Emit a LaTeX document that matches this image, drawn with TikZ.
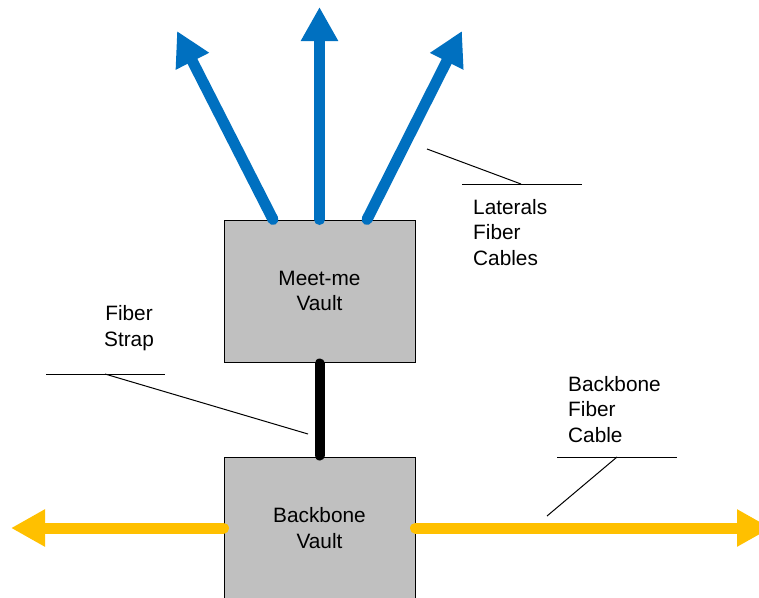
\documentclass[tikz,border=0pt]{standalone}
\usepackage{fontspec}
\setmainfont{Liberation Sans}
\usetikzlibrary{arrows.meta}
\definecolor{lateralblue}{HTML}{0070C0}
\definecolor{backboneyellow}{HTML}{FFC000}
\definecolor{vaultgray}{HTML}{C0C0C0}
\tikzset{
  vault/.style={draw=black, line width=1pt, fill=vaultgray, minimum width=191pt,
    minimum height=142pt, inner sep=0pt, align=center,
    font=\fontsize{20.8}{25.5}\selectfont},
  cable/.style={line width=11pt, line cap=round,
    -{Triangle[length=34pt, width=35pt]}},
  lateral/.style={cable, draw=lateralblue},
  trunk/.style={cable, draw=backboneyellow},
  strap/.style={line width=10pt, line cap=round, draw=black},
  leader/.style={draw=black, line width=1pt},
  caption/.style={inner sep=0pt, align=left, anchor=base west,
    font=\fontsize{20.8}{25.5}\selectfont}
}
\begin{document}
\begin{tikzpicture}[x=1pt, y=-1pt]
  \useasboundingbox (0,0) rectangle (759,597);
  \clip (0,0) rectangle (759,597);

  % vaults
  \node[vault] (meet) at (319.5,291) {Meet-me\\Vault};
  \node[vault] (bone) at (319.5,528) {Backbone\\Vault};

  % lateral cable ends and backbone ends
  \coordinate (latL) at (177,31);
  \coordinate (latM) at (319.5,7);
  \coordinate (latR) at (462,31);
  \coordinate (bbW) at (11,528);
  \coordinate (bbE) at (771,528);

  % laterals leaving the meet-me vault
  \draw[lateral] ([xshift=-46.5pt]meet.north) -- (latL);
  \draw[lateral] (meet.north) -- (latM);
  \draw[lateral] ([xshift=47.5pt]meet.north) -- (latR);

  % fibre strap between the vaults
  \draw[strap] ([yshift=-1pt]meet.south) -- ([yshift=1pt]bone.north);

  % backbone cable through the backbone vault
  \draw[trunk] (bone.west) -- (bbW);
  \draw[trunk] (bone.east) -- (bbE);

  % captions (anchored on the baseline of their last line)
  \node[caption] (latcap) at (473,265) {Laterals\\Fiber\\Cables};
  \node[caption, align=center, anchor=base] (strapcap) at (129,346) {Fiber\\Strap};
  \node[caption] (bbcap) at (568,442) {Backbone\\Fiber\\Cable};

  % leader lines
  \coordinate (latA) at (462,184);
  \coordinate (latB) at (582,184);
  \coordinate (latK) at (521,184);
  \coordinate (latP) at (427,149);
  \draw[leader] (latA) -- (latB);
  \draw[leader] (latK) -- (latP);

  \coordinate (stA) at (46,374);
  \coordinate (stB) at (165,374);
  \coordinate (stK) at (105,374);
  \coordinate (stP) at (308,434);
  \draw[leader] (stA) -- (stB);
  \draw[leader] (stK) -- (stP);

  \coordinate (bbA) at (557,457);
  \coordinate (bbB) at (677,457);
  \coordinate (bbK) at (617,457);
  \coordinate (bbP) at (547,516);
  \draw[leader] (bbA) -- (bbB);
  \draw[leader] (bbK) -- (bbP);
\end{tikzpicture}
\end{document}
